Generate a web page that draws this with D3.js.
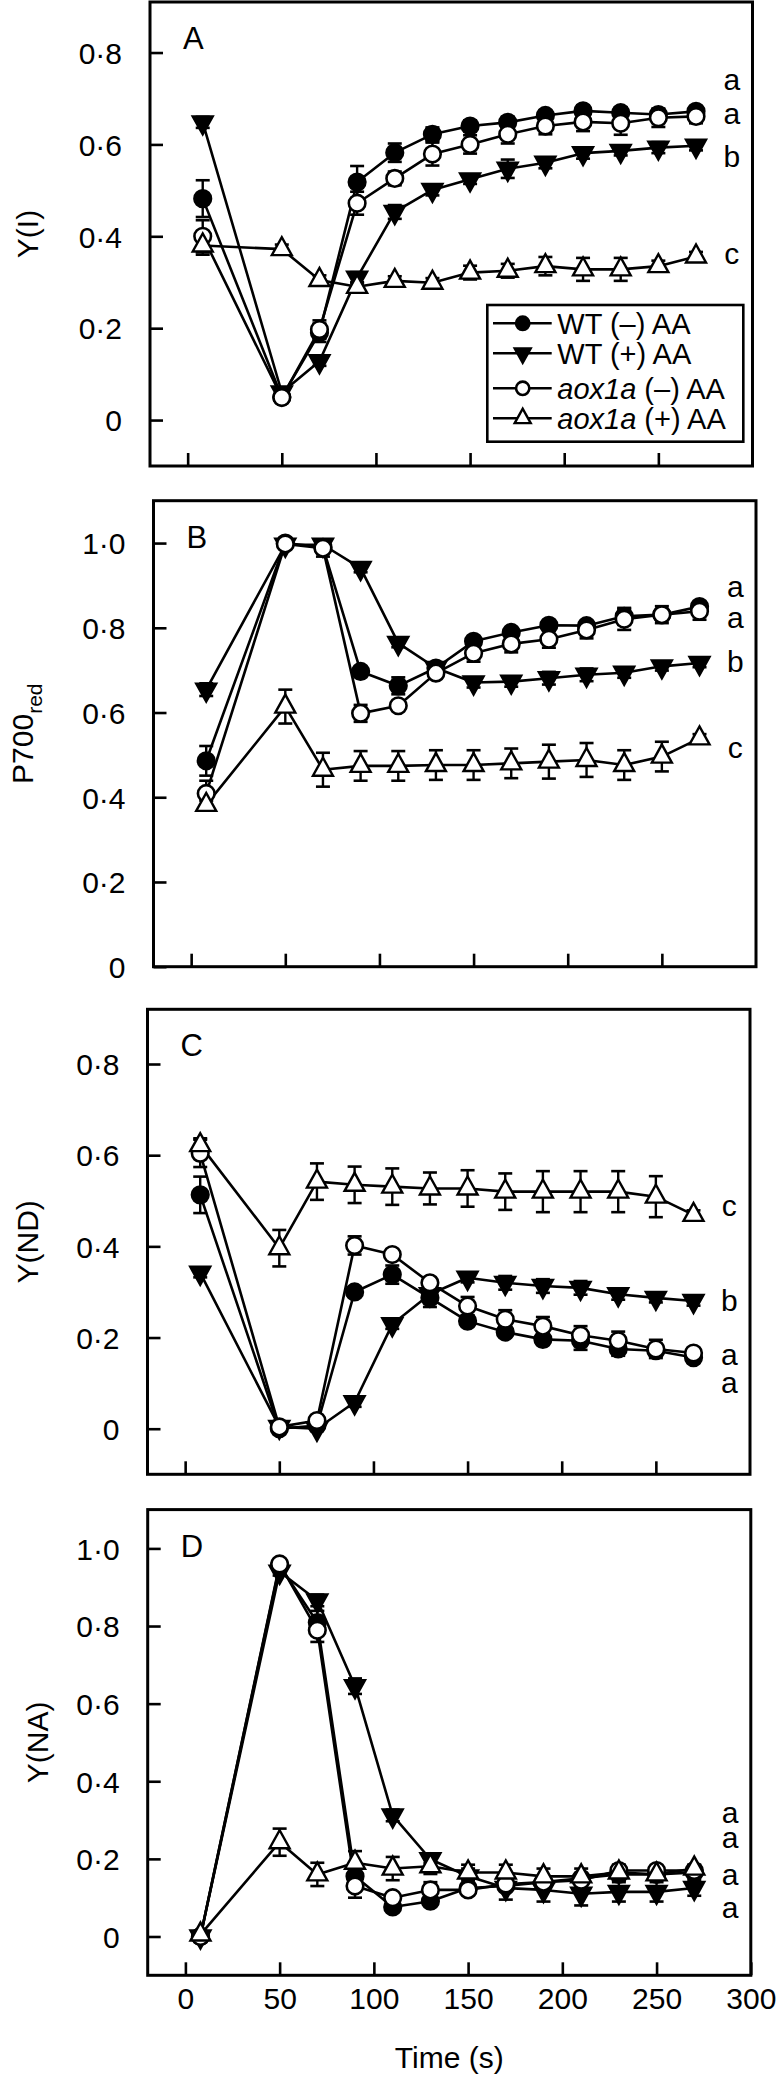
<!DOCTYPE html>
<html><head><meta charset="utf-8">
<script src="https://cdn.jsdelivr.net/npm/d3@7"></script>
<style>
body{margin:0;background:#fff}
svg text{font-family:"Liberation Sans",Arial,Helvetica,sans-serif;fill:#000}
</style>
</head><body>
<svg id="chart" width="782" height="2076"></svg>
<script>
// ---------------- DATA ----------------
const times = [8, 50, 70, 90, 110, 130, 150, 170, 190, 210, 230, 250, 270];
const seriesNames = ["WT (–) AA", "WT (+) AA", "aox1a (–) AA", "aox1a (+) AA"];
const xTickValues = [0, 50, 100, 150, 200, 250, 300];
const yTicksA = [0, 0.2, 0.4, 0.6, 0.8];
const yTicksB = [0, 0.2, 0.4, 0.6, 0.8, 1.0];

// Panel A : Y(I)
const A_wtM  = [0.482,0.050,0.190,0.518,0.582,0.622,0.640,0.648,0.663,0.673,0.669,0.665,0.672];
const A_wtP  = [0.648,0.060,0.128,0.310,0.453,0.501,0.524,0.547,0.560,0.581,0.586,0.593,0.597];
const A_aoxM = [0.400,0.049,0.197,0.472,0.526,0.579,0.600,0.622,0.640,0.649,0.646,0.658,0.661];
const A_aoxP = [0.380,0.372,0.305,0.290,0.303,0.299,0.321,0.325,0.335,0.328,0.328,0.335,0.356];
const A_wtM_e  = [0.040,0.005,0.020,0.035,0.020,0.015,0.012,0.012,0.010,0.012,0.012,0.010,0.010];
const A_wtP_e  = [0.012,0.005,0.010,0.012,0.015,0.012,0.010,0.020,0.012,0.012,0.010,0.012,0.010];
const A_aoxM_e = [0.035,0.005,0.020,0.025,0.015,0.025,0.020,0.020,0.018,0.020,0.025,0.020,0.015];
const A_aoxP_e = [0.020,0.010,0.010,0.010,0.010,0.010,0.015,0.015,0.020,0.025,0.025,0.012,0.010];
const A_letters = ["a","a","b","c"];
const A_letterY = [0.735,0.662,0.567,0.356];

// Panel B : P700red
const B_wtM  = [0.486,1.000,0.990,0.697,0.663,0.705,0.768,0.789,0.806,0.805,0.827,0.831,0.850];
const B_wtP  = [0.654,0.996,0.996,0.941,0.764,0.705,0.671,0.673,0.681,0.689,0.694,0.709,0.717];
const B_aoxM = [0.409,0.998,0.988,0.598,0.616,0.693,0.740,0.762,0.773,0.795,0.820,0.831,0.839];
const B_aoxP = [0.382,0.614,0.465,0.474,0.474,0.476,0.476,0.480,0.484,0.488,0.476,0.496,0.539];
const B_wtM_e  = [0.035,0.005,0.010,0.010,0.020,0.010,0.010,0.010,0.010,0.010,0.020,0.010,0.010];
const B_wtP_e  = [0.015,0.005,0.010,0.010,0.010,0.010,0.012,0.012,0.015,0.015,0.012,0.010,0.010];
const B_aoxM_e = [0.030,0.005,0.020,0.020,0.010,0.010,0.020,0.020,0.020,0.020,0.025,0.020,0.020];
const B_aoxP_e = [0.010,0.040,0.040,0.035,0.035,0.035,0.035,0.035,0.040,0.040,0.035,0.035,0.010];
const B_letters = ["a","a","b","c"];
const B_letterY = [0.890,0.819,0.713,0.512];

// Panel C : Y(ND)
const C_wtM  = [0.513,0.000,0.007,0.300,0.338,0.287,0.236,0.212,0.196,0.193,0.175,0.171,0.156];
const C_wtP  = [0.342,0.004,0.000,0.058,0.229,0.295,0.331,0.320,0.313,0.309,0.295,0.287,0.280];
const C_aoxM = [0.604,0.004,0.018,0.402,0.382,0.320,0.269,0.240,0.225,0.205,0.193,0.175,0.166];
const C_aoxP = [0.622,0.396,0.542,0.535,0.531,0.527,0.527,0.520,0.520,0.520,0.520,0.509,0.469];
const C_wtM_e  = [0.040,0.005,0.005,0.010,0.020,0.020,0.010,0.010,0.010,0.020,0.015,0.010,0.010];
const C_wtP_e  = [0.010,0.005,0.005,0.010,0.010,0.010,0.010,0.015,0.015,0.015,0.012,0.010,0.010];
const C_aoxM_e = [0.030,0.005,0.010,0.020,0.010,0.010,0.020,0.020,0.020,0.020,0.020,0.020,0.010];
const C_aoxP_e = [0.015,0.040,0.040,0.040,0.040,0.035,0.040,0.040,0.045,0.045,0.045,0.045,0.010];
const C_letters = ["c","b","a","a"];
const C_letterY = [0.484,0.276,0.156,0.095];

// Panel D : Y(NA)
const D_wtM  = [0.000,0.956,0.809,0.155,0.076,0.091,0.125,0.130,0.140,0.150,0.160,0.160,0.165];
const D_wtP  = [0.000,0.940,0.866,0.645,0.312,0.199,0.155,0.125,0.120,0.110,0.115,0.115,0.125];
const D_aoxM = [0.000,0.960,0.789,0.130,0.100,0.120,0.120,0.135,0.140,0.145,0.170,0.170,0.170];
const D_aoxP = [0.005,0.243,0.160,0.190,0.175,0.181,0.165,0.165,0.155,0.155,0.165,0.160,0.175];
const D_wtM_e  = [0.005,0.010,0.030,0.020,0.010,0.010,0.010,0.010,0.010,0.010,0.010,0.010,0.010];
const D_wtP_e  = [0.005,0.010,0.015,0.020,0.015,0.010,0.020,0.030,0.030,0.030,0.025,0.025,0.020];
const D_aoxM_e = [0.005,0.010,0.030,0.030,0.010,0.020,0.010,0.010,0.010,0.010,0.010,0.010,0.010];
const D_aoxP_e = [0.005,0.035,0.030,0.030,0.030,0.020,0.020,0.020,0.020,0.020,0.020,0.010,0.010];
const D_letters = ["a","a","a","a"];
const D_letterY = [0.313,0.249,0.154,0.068];

const letterX = 289;

// ---------------- LAYOUT ----------------
const panels = [
  {tag:"A", title:"Y(I)", titleX:27, frame:[150,752.5,2,466], yDomain:[-0.1,0.91], yTicks:yTicksA,
   series:[A_wtM,A_wtP,A_aoxM,A_aoxP], errs:[A_wtM_e,A_wtP_e,A_aoxM_e,A_aoxP_e], letters:A_letters, letterY:A_letterY, legend:true},
  {tag:"B", title:"P700", sub:"red", titleX:22, frame:[153.5,756,500.7,966.7], yDomain:[0,1.1], yTicks:yTicksB,
   series:[B_wtM,B_wtP,B_aoxM,B_aoxP], errs:[B_wtM_e,B_wtP_e,B_aoxM_e,B_aoxP_e], letters:B_letters, letterY:B_letterY},
  {tag:"C", title:"Y(ND)", titleX:27, frame:[147.5,750,1009.3,1474.3], yDomain:[-0.1,0.92], yTicks:yTicksA,
   series:[C_wtM,C_wtP,C_aoxM,C_aoxP], errs:[C_wtM_e,C_wtP_e,C_aoxM_e,C_aoxP_e], letters:C_letters, letterY:C_letterY},
  {tag:"D", title:"Y(NA)", titleX:37, frame:[147.7,750.8,1509.6,1975.3], yDomain:[-0.1,1.1], yTicks:yTicksB,
   series:[D_wtM,D_wtP,D_aoxM,D_aoxP], errs:[D_wtM_e,D_wtP_e,D_aoxM_e,D_aoxP_e], letters:D_letters, letterY:D_letterY, xLabels:true}
];

const svg = d3.select("#chart");
const fmt = d => d === 0 ? "0" : d3.format(".1f")(d).replace(".", "·");
const FS = 30;
const lineW = 2.6;

function markerPath(type, s) {
  const h = s * 0.9;
  if (type === "down") return `M${-s/2},${-h/3}L${s/2},${-h/3}L0,${2*h/3}Z`;
  return `M${-s/2},${h/3}L${s/2},${h/3}L0,${-2*h/3}Z`;
}
const markerType = ["circle","down","circle","up"];
const markerFill = ["#000","#000","#fff","#fff"];

function drawMarker(g, k, x, y, scale) {
  const sc = scale || 1;
  if (markerType[k] === "circle") {
    g.append("circle").attr("cx", x).attr("cy", y).attr("r", 8.3*sc)
      .attr("fill", markerFill[k]).attr("stroke", "#000").attr("stroke-width", 2.6);
  } else {
    g.append("path").attr("d", markerPath(markerType[k], 20*sc))
      .attr("transform", `translate(${x},${y})`)
      .attr("fill", markerFill[k]).attr("stroke", "#000").attr("stroke-width", 2.4)
      .attr("stroke-linejoin", "miter");
  }
}

panels.forEach(p => {
  const [x0, x1, y0, y1] = p.frame;
  const x = d3.scaleLinear().domain([-20, 300]).range([x0, x1]);
  const y = d3.scaleLinear().domain(p.yDomain).range([y1, y0]);
  const g = svg.append("g");

  // y axis
  const ya = g.append("g").attr("transform", `translate(${x0},0)`)
    .call(d3.axisLeft(y).tickValues(p.yTicks).tickSize(-13).tickPadding(28).tickFormat(fmt));
  ya.select(".domain").remove();
  ya.selectAll(".tick line").attr("stroke", "#000").attr("stroke-width", 2.6);
  ya.selectAll("text").attr("font-size", FS).attr("dy", "0.36em");

  // x axis
  const xa = g.append("g").attr("transform", `translate(0,${y1})`)
    .call(d3.axisBottom(x).tickValues(p.xLabels ? xTickValues : xTickValues.slice(0, 6))
      .tickSize(-13).tickPadding(12).tickFormat(p.xLabels ? d3.format("d") : ""));
  xa.select(".domain").remove();
  xa.selectAll(".tick line").attr("stroke", "#000").attr("stroke-width", 2.6);
  xa.selectAll("text").attr("font-size", FS);

  // frame
  g.append("rect").attr("x", x0).attr("y", y0).attr("width", x1 - x0).attr("height", y1 - y0)
    .attr("fill", "none").attr("stroke", "#000").attr("stroke-width", 3);

  // panel tag
  g.append("text").attr("x", x0 + 33).attr("y", y0 + 36 + (p.tag === "A" ? 0 : 0))
    .attr("dy", "0.36em").attr("font-size", 31).text(p.tag);

  // y title
  const cy = (y0 + y1) / 2;
  const t = g.append("text").attr("transform", `translate(${p.titleX},${cy}) rotate(-90)`)
    .attr("text-anchor", "middle").attr("dy", "0.36em").attr("font-size", FS);
  t.append("tspan").text(p.title);
  if (p.sub) t.append("tspan").attr("font-size", 21).attr("dy", "9").text(p.sub);

  // series
  const line = d3.line().x((d, i) => x(times[i])).y(d => y(d));
  p.series.forEach((vals, k) => {
    const sg = g.append("g");
    sg.append("path").datum(vals).attr("d", line).attr("fill", "none")
      .attr("stroke", "#000").attr("stroke-width", lineW).attr("stroke-linejoin", "round");
    vals.forEach((v, i) => {
      const e = p.errs[k][i];
      const cx = x(times[i]);
      sg.append("line").attr("x1", cx).attr("x2", cx).attr("y1", y(v - e)).attr("y2", y(v + e))
        .attr("stroke", "#000").attr("stroke-width", 2.4);
      [v - e, v + e].forEach(ev => sg.append("line").attr("x1", cx - 7).attr("x2", cx + 7)
        .attr("y1", y(ev)).attr("y2", y(ev)).attr("stroke", "#000").attr("stroke-width", 2.6));
    });
  });
  p.series.forEach((vals, k) => {
    vals.forEach((v, i) => drawMarker(g, k, x(times[i]), y(v)));
  });

  // significance letters
  p.letters.forEach((l, i) => {
    g.append("text").attr("x", x(letterX)).attr("y", y(p.letterY[i])).attr("dy", "0.26em")
      .attr("text-anchor", "middle").attr("font-size", FS).text(l);
  });

  // x title
  if (p.xLabels) {
    g.append("text").attr("x", (x0 + x1) / 2).attr("y", 2057).attr("dy", "0.36em")
      .attr("text-anchor", "middle").attr("font-size", FS).text("Time (s)");
  }

  // legend
  if (p.legend) {
    const lg = g.append("g");
    lg.append("rect").attr("x", 487.3).attr("y", 305).attr("width", 256).attr("height", 136.7)
      .attr("fill", "#fff").attr("stroke", "#000").attr("stroke-width", 2.6);
    const rows = [323.3, 353.3, 388.3, 418.3];
    seriesNames.forEach((n, k) => {
      const ry = rows[k];
      lg.append("line").attr("x1", 493).attr("x2", 551.7).attr("y1", ry).attr("y2", ry)
        .attr("stroke", "#000").attr("stroke-width", lineW);
      drawMarker(lg, k, 522.7, ry, 0.8);
      const tx = lg.append("text").attr("x", 557.3).attr("y", ry).attr("dy", "0.36em").attr("font-size", 29);
      if (n.startsWith("aox1a")) {
        tx.append("tspan").attr("font-style", "italic").text("aox1a");
        tx.append("tspan").text(n.slice(5));
      } else tx.text(n);
    });
  }
});
</script>
</body></html>
